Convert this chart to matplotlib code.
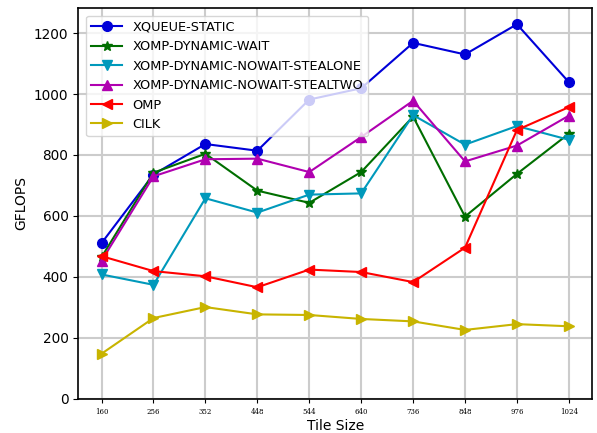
import matplotlib
matplotlib.use("Agg")
import matplotlib.pyplot as plt

tile_sizes = ["160", "256", "352", "448", "544", "640", "736", "848", "976", "1024"]

xqueue_static = [511, 736, 836, 814, 982, 1019, 1168, 1130, 1229, 1039]
xomp_dynamic_wait = [465, 742, 804, 683, 643, 744, 926, 598, 738, 870]
xomp_nowait_stealone = [408, 374, 658, 611, 670, 674, 931, 834, 895, 850]
xomp_nowait_stealtwo = [453, 730, 786, 788, 744, 859, 978, 779, 831, 929]
omp = [468, 419, 402, 366, 424, 416, 383, 496, 882, 957]
cilk = [148, 265, 301, 277, 275, 262, 254, 226, 245, 238]

series = [
    ("XQUEUE-STATIC", xqueue_static, "o", "#0000d8"),
    ("XOMP-DYNAMIC-WAIT", xomp_dynamic_wait, "*", "#006e00"),
    ("XOMP-DYNAMIC-NOWAIT-STEALONE", xomp_nowait_stealone, "v", "#0099bb"),
    ("XOMP-DYNAMIC-NOWAIT-STEALTWO", xomp_nowait_stealtwo, "^", "#b000b0"),
    ("OMP", omp, "<", "#ff0000"),
    ("CILK", cilk, ">", "#c8b400"),
]

fig, ax = plt.subplots(figsize=(5.97, 4.33), dpi=100)
fig.subplots_adjust(left=0.131, right=0.992, top=0.982, bottom=0.079)

x = list(range(len(tile_sizes)))
for label, vals, marker, color in series:
    ax.plot(x, vals, marker=marker, color=color, label=label,
            linewidth=1.5, markersize=7)

ax.set_xticks(x)
ax.set_xticklabels(tile_sizes, fontsize=5, family="DejaVu Serif")
ax.tick_params(axis="y", labelsize=9.8)
ax.tick_params(axis="x", length=3)
ax.set_ylim(bottom=0)
ax.set_xlabel("Tile Size", fontsize=10, labelpad=2)
ax.set_ylabel("GFLOPS", fontsize=10)
ax.grid(True, color="#cccccc", linewidth=1.5)
ax.set_axisbelow(True)
for s in ax.spines.values():
    s.set_linewidth(1.2)

ax.legend(loc="upper left", fontsize=9.3, framealpha=0.8, handlelength=2.4,
          borderaxespad=0.6)

fig.savefig("out.png", dpi=100)
